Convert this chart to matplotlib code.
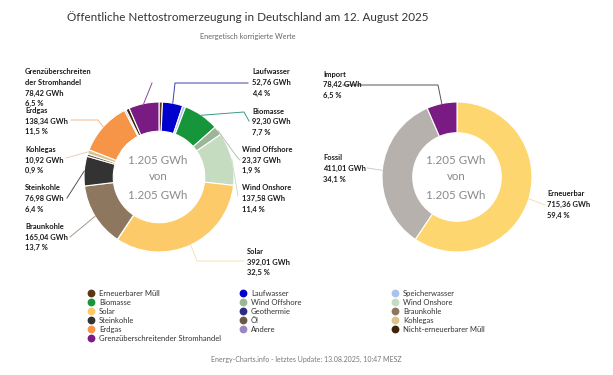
import matplotlib
matplotlib.use("Agg")
import matplotlib.pyplot as plt
from matplotlib.lines import Line2D
import numpy as np

W, H = 613, 375

# ---------------- data ----------------
categories = ["Erneuerbarer Müll", "Laufwasser", "Speicherwasser", "Biomasse",
              "Wind Offshore", "Wind Onshore", "Solar", "Geothermie",
              "Braunkohle", "Steinkohle", "Öl", "Kohlegas", "Erdgas", "Andere",
              "Nicht-erneuerbarer Müll", "Grenzüberschreitender Stromhandel"]
values_gwh = [9.00, 52.76, 7.80, 92.30,
              23.37, 137.58, 392.01, 0.54,
              165.04, 76.98, 6.50, 10.92, 138.34, 4.23,
              9.00, 78.42]
colors = ["#5a3613", "#0000cc", "#a9c3ef", "#17953a",
          "#9db597", "#c5dcc1", "#fdca6a", "#2b2d84",
          "#8e775f", "#333333", "#6d5846", "#dcc38c", "#f69447", "#9a87bd",
          "#3d2608", "#7a1a83"]

summary_labels = ["Erneuerbar", "Fossil", "Import"]
summary_values = [715.36, 411.01, 78.42]
summary_colors = ["#fdd66f", "#b7b1ad", "#7a1a83"]

title = "Öffentliche Nettostromerzeugung in Deutschland am 12. August 2025"
subtitle = "Energetisch korrigierte Werte"
footer = "Energy-Charts.info - letztes Update: 13.08.2025, 10:47 MESZ"

FONT = "Lato"

fig = plt.figure(figsize=(W / 100, H / 100), dpi=100)
fig.patch.set_facecolor("white")


def fx(x):
    return x / W


def fy(y):
    return 1 - y / H


def fmt_num(v):
    return f"{v:.2f}".replace(".", ",")


def fmt_pct(p):
    return f"{p:.1f}".replace(".", ",") + " %"


def donut(cx, cy, r, vals, cols, width):
    ax = fig.add_axes([fx(cx - r), fy(cy + r), 2 * r / W, 2 * r / H])
    wedges, _ = ax.pie(vals, colors=cols, startangle=90, counterclock=False,
                       radius=1,
                       wedgeprops=dict(width=width, edgecolor="white",
                                       linewidth=0.8))
    ax.set_xlim(-1, 1)
    ax.set_ylim(-1, 1)
    ax.set_aspect("equal")
    ax.axis("off")
    total = sum(vals)
    total_txt = f"{round(total):,}".replace(",", ".") + " GWh"
    for dy, t in [(-17, total_txt), (0, "von"), (19, total_txt)]:
        fig.text(fx(cx - 1), fy(cy + dy), t, ha="center", va="center",
                 fontsize=8.3, color="#8a8a8a", family=FONT)
    return ax, wedges, total


def wedge_point(ax, w):
    mid = np.deg2rad((w.theta1 + w.theta2) / 2)
    disp = ax.transData.transform((np.cos(mid), np.sin(mid)))
    return fig.transFigure.inverted().transform(disp)


def label(ax, w, lines, tx, ty, via, lcolor):
    p0 = wedge_point(ax, w)
    xs = [p0[0]] + [fx(v[0]) for v in via]
    ys = [p0[1]] + [fy(v[1]) for v in via]
    fig.add_artist(Line2D(xs, ys, transform=fig.transFigure, color=lcolor,
                          linewidth=0.7))
    for i, t in enumerate(lines):
        fig.text(fx(tx), fy(ty + i * 10.5), t, ha="left", va="center",
                 fontsize=5.45, fontweight="bold", color="#1a1a1a", family=FONT)


# ---------------- left donut ----------------
axL, wL, totL = donut(159, 177, 75, values_gwh, colors, 0.39)

layout_left = {
    "Grenzüberschreitender Stromhandel": (["Grenzüberschreiten", "der Stromhandel"], 25, 72,
                                          [(152, 83)], "#8a4a9a"),
    "Laufwasser": (["Laufwasser"], 252, 72, [(175, 83), (248, 83)], "#4040a8"),
    "Biomasse": (["Biomasse"], 252, 111, [(244, 112), (249, 121)], "#3a9a88"),
    "Wind Offshore": (["Wind Offshore"], 242, 149.5, [(237, 157), (240, 160)], "#b4c2b2"),
    "Wind Onshore": (["Wind Onshore"], 242, 188, [(238, 196)], "#cfe0cc"),
    "Solar": (["Solar"], 247, 251.5, [(197, 261), (244, 261)], "#f3e3b8"),
    "Braunkohle": (["Braunkohle"], 25, 226.5, [(70, 237)], "#a8978a"),
    "Steinkohle": (["Steinkohle"], 25, 188, [(67, 198)], "#555555"),
    "Kohlegas": (["Kohlegas"], 25, 149.5, [(66, 158)], "#e3d5b5"),
    "Erdgas": (["Erdgas"], 25, 110.5, [(98, 120), (71, 120)], "#f5b585"),
}

for cat, w, v in zip(categories, wL, values_gwh):
    if cat in layout_left:
        names, tx, ty, via, lc = layout_left[cat]
        lines = names + [fmt_num(v) + " GWh", fmt_pct(100 * v / totL)]
        label(axL, w, lines, tx, ty, via, lc)

# ---------------- right donut ----------------
axR, wR, totR = donut(457, 177, 75, summary_values, summary_colors, 0.41)

layout_right = {
    "Import": (323, 74, [(438, 85), (343, 85)], "#555555"),
    "Fossil": (323, 158, [(367, 168)], "#cccccc"),
    "Erneuerbar": (547, 194, [(545, 205)], "#f5e2a8"),
}
for cat, w, v in zip(summary_labels, wR, summary_values):
    tx, ty, via, lc = layout_right[cat]
    lines = [cat, fmt_num(v) + " GWh", fmt_pct(100 * v / totR)]
    label(axR, w, lines, tx, ty, via, lc)

# ---------------- titles ----------------
fig.text(fx(248), fy(17.5), title, ha="center", va="center", fontsize=8.4,
         color="#333333", family=FONT)
fig.text(fx(248), fy(36.5), subtitle, ha="center", va="center", fontsize=5.3,
         color="#666666", family=FONT)
fig.text(fx(306), fy(359), footer, ha="center", va="center", fontsize=5.0,
         color="#777777", family=FONT)

# ---------------- legend (row-wise, 3 columns) ----------------
col_x = [91, 243, 395]
row_y0, row_dy = 293.3, 9.0
for i, (cat, c) in enumerate(zip(categories, colors)):
    r, k = divmod(i, 3)
    x, y = col_x[k], row_y0 + r * row_dy
    fig.add_artist(Line2D([fx(x)], [fy(y)], transform=fig.transFigure,
                          marker="o", markersize=4.6, color=c, linestyle="none"))
    fig.text(fx(x + 8), fy(y), cat, ha="left", va="center", fontsize=5.5,
             color="#333333", family=FONT)

fig.savefig("out.png", dpi=100, facecolor="white")
